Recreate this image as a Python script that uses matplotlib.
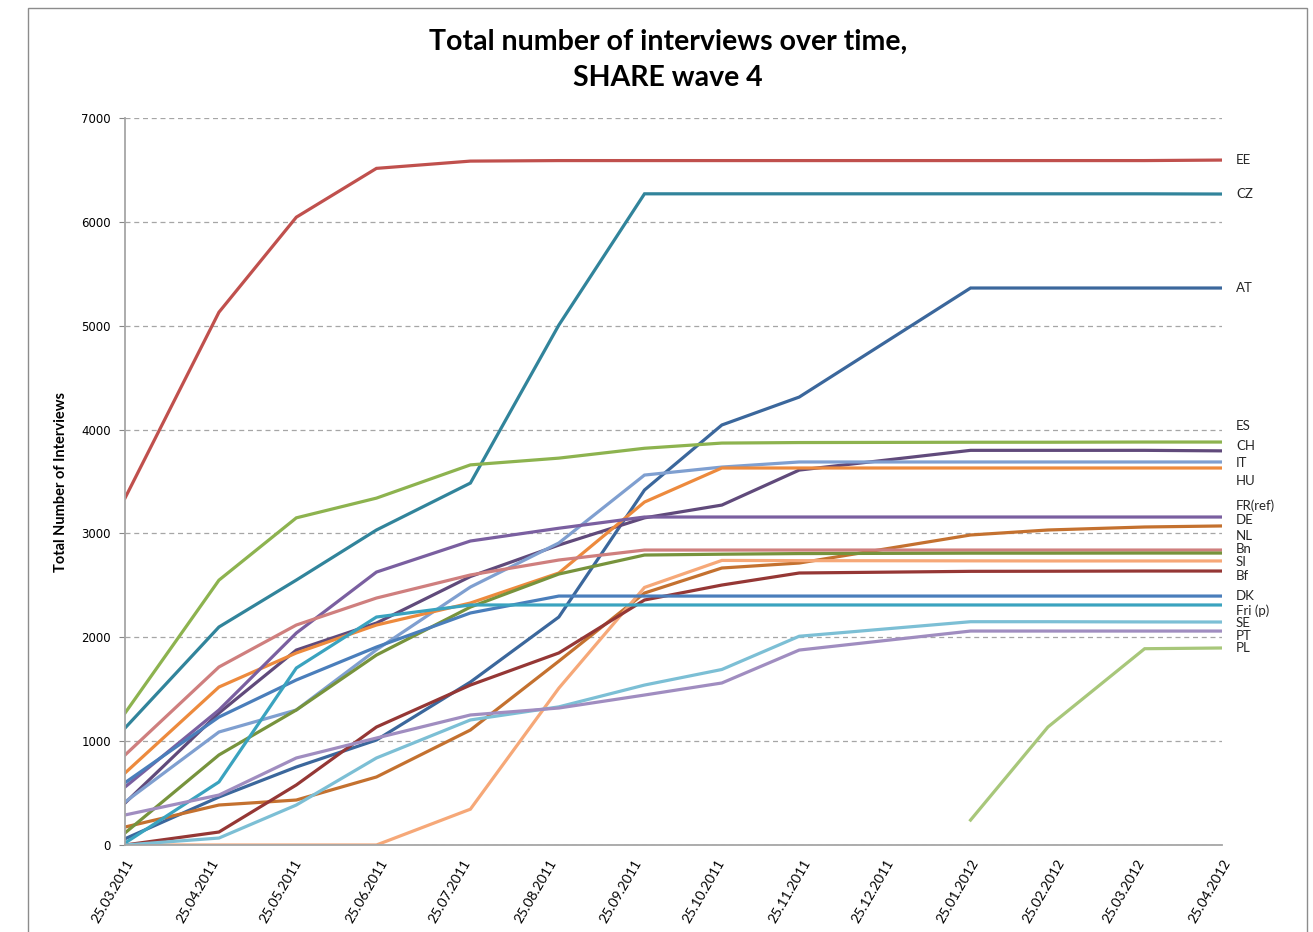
import datetime as dt
import numpy as np
import matplotlib.pyplot as plt
from matplotlib.patches import Rectangle

nan = np.nan

# reporting dates of the fieldwork counts
dates = [dt.date(2011, 3, 25), dt.date(2011, 4, 28), dt.date(2011, 5, 26),
         dt.date(2011, 6, 24), dt.date(2011, 7, 28), dt.date(2011, 8, 29),
         dt.date(2011, 9, 29), dt.date(2011, 10, 27), dt.date(2011, 11, 24),
         dt.date(2012, 1, 25), dt.date(2012, 2, 22), dt.date(2012, 3, 28),
         dt.date(2012, 4, 25)]

EE = [3340, 5130, 6045, 6515, 6585, 6590, 6590, 6590, 6590, 6590, 6590, 6590, 6595]
CZ = [1126, 2099, 2551, 3033, 3485, 5006, 6270, 6270, 6270, 6270, 6270, 6270, 6268]
AT = [60, 462, 751, 1011, 1569, 2195, 3418, 4044, 4313, 5363, 5363, 5363, 5363]
ES = [1270, 2550, 3150, 3340, 3660, 3725, 3820, 3870, 3875, 3878, 3878, 3880, 3880]
CH = [404, 1271, 1877, 2137, 2585, 2888, 3150, 3273, 3610, 3800, 3800, 3800, 3795]
IT = [414, 1088, 1300, 1880, 2484, 2908, 3562, 3639, 3688, 3688, 3688, 3688, 3688]
HU = [693, 1521, 1849, 2118, 2330, 2619, 3302, 3630, 3630, 3630, 3630, 3630, 3630]
FR = [558, 1300, 2041, 2628, 2927, 3050, 3158, 3158, 3158, 3158, 3158, 3158, 3158]
DE = [173, 385, 433, 655, 1107, 1770, 2426, 2667, 2715, 2985, 3033, 3062, 3072]
NL = [866, 1714, 2118, 2378, 2600, 2744, 2840, 2840, 2840, 2840, 2840, 2840, 2840]
Bn = [116, 867, 1300, 1829, 2291, 2609, 2792, 2800, 2806, 2810, 2810, 2811, 2811]
SI = [0, 0, 0, 0, 345, 1510, 2480, 2740, 2738, 2736, 2735, 2735, 2735]
Bf = [0, 125, 578, 1136, 1540, 1849, 2359, 2503, 2619, 2635, 2636, 2638, 2638]
DK = [600, 1232, 1589, 1906, 2234, 2397, 2397, 2397, 2397, 2397, 2397, 2397, 2397]
Fri = [19, 607, 1704, 2195, 2311, 2311, 2311, 2311, 2311, 2311, 2311, 2311, 2311]
SE = [0, 67, 385, 838, 1204, 1330, 1540, 1690, 2010, 2150, 2150, 2148, 2147]
PT = [289, 481, 838, 1030, 1252, 1319, 1444, 1560, 1877, 2060, 2060, 2060, 2060]
PL = [nan, nan, nan, nan, nan, nan, nan, nan, nan, 240, 1136, 1890, 1897]

countries = ['EE', 'CZ', 'AT', 'ES', 'CH', 'IT', 'HU', 'FR(ref)', 'DE', 'NL',
             'Bn', 'SI', 'Bf', 'DK', 'Fri (p)', 'SE', 'PT', 'PL']
series = [EE, CZ, AT, ES, CH, IT, HU, FR, DE, NL, Bn, SI, Bf, DK, Fri, SE, PT, PL]
colors = ['#c0504d', '#31849b', '#3b679c', '#8db34f', '#604a7b', '#7f9fd0',
          '#ed8a3d', '#7a5fa0', '#c4712f', '#cf7f7e', '#77933c', '#f6a878',
          '#953735', '#4a7ebb', '#3aa3bf', '#7cbfd5', '#a08dc0', '#a8c77a']
# where the names sit on the right (set by hand in the original)
label_y = [6595, 6268, 5363, 4034, 3842, 3678, 3505, 3264, 3125, 2975,
           2850, 2725, 2590, 2397, 2253, 2137, 2012, 1897]

tick_dates = [dt.date(2011 + (m // 12), m % 12 + 1, 25) for m in range(2, 16)]

fig = plt.figure(figsize=(13.13, 9.32), dpi=100)
ax = fig.add_axes([125 / 1313, 1 - 845 / 932, (1222 - 125) / 1313, (845 - 118) / 932])

for name, vals, c in zip(countries, series, colors):
    ax.plot(dates, vals, color=c, lw=2.3, solid_joinstyle='miter')

for name, y, c in zip(countries, label_y, colors):
    ax.annotate(name, xy=(1, y), xytext=(10, 0), xycoords=('axes fraction', 'data'),
                textcoords='offset points', va='center', ha='left',
                fontsize=9.5, family='Lato', color='#262626')

ax.set_xlim(tick_dates[0], tick_dates[-1])
ax.set_ylim(0, 7000)
ax.set_yticks(range(0, 7001, 1000))
ax.set_xticks(tick_dates)
ax.set_xticklabels([d.strftime('%d.%m.%Y') for d in tick_dates], rotation=60,
                   ha='right', rotation_mode='anchor', fontsize=10, family='Lato')
ax.tick_params(axis='y', labelsize=8.5, length=4, color='#868686', pad=6)
ax.tick_params(axis='x', length=0, pad=9)
ax.grid(axis='y', color='#a6a6a6', ls=(0, (4, 3)), lw=0.9)
ax.set_axisbelow(True)
for s in ['top', 'right']:
    ax.spines[s].set_visible(False)
for s in ['left', 'bottom']:
    ax.spines[s].set_color('#a6a6a6')
    ax.spines[s].set_linewidth(1.3)

ax.set_ylabel('Total Number of Interviews', fontsize=10.5, family='Lato',
              fontweight='bold', labelpad=10)
fig.text(668 / 1313, 1 - 42 / 932, 'Total number of interviews over time,',
         ha='center', va='center', fontsize=20.5, family='Lato', fontweight='bold')
fig.text(668 / 1313, 1 - 78 / 932, 'SHARE wave 4',
         ha='center', va='center', fontsize=20.5, family='Lato', fontweight='bold')

fig.patches.append(Rectangle((28 / 1313, -0.05), (1307 - 28) / 1313, 1.05 - 8 / 932,
                             transform=fig.transFigure, fill=False,
                             edgecolor='#8c8c8c', lw=1))

fig.savefig('out.png', dpi=100)
